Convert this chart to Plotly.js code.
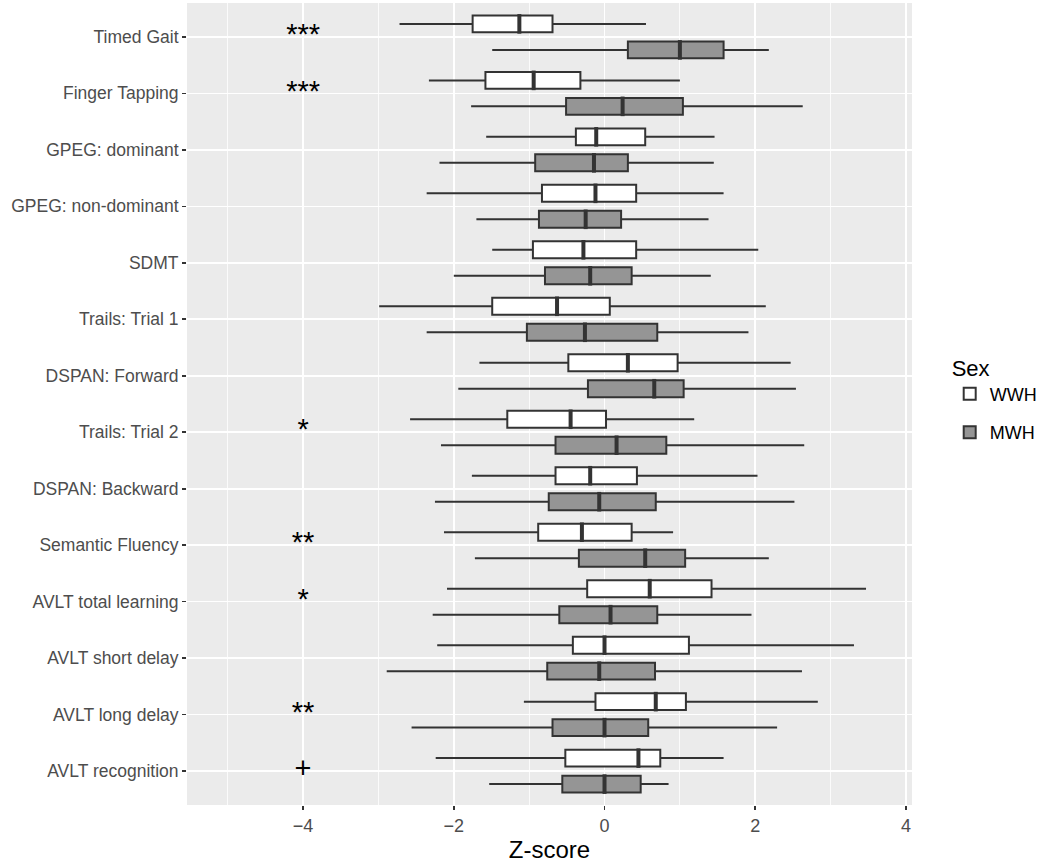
<!DOCTYPE html>
<html>
<head>
<meta charset="utf-8">
<script src="https://cdn.plot.ly/plotly-3.0.1.min.js"></script>
<style>html,body{margin:0;padding:0;background:#fff;}#chart{width:1050px;height:863px;}</style>
</head>
<body>
<div id="chart"></div>
<script>
const categories = ["Timed Gait","Finger Tapping","GPEG: dominant","GPEG: non-dominant","SDMT","Trails: Trial 1","DSPAN: Forward","Trails: Trial 2","DSPAN: Backward","Semantic Fluency","AVLT total learning","AVLT short delay","AVLT long delay","AVLT recognition"];
const significance = ["***","***","","","","","","*","","**","*","","**","+"];

const wwhLower  = [-2.72,-2.33,-1.57,-2.36,-1.49,-2.99,-1.66,-2.58,-1.76,-2.13,-2.09,-2.22,-1.07,-2.24];
const wwhQ1     = [-1.75,-1.58,-0.38,-0.83,-0.95,-1.49,-0.48,-1.29,-0.65,-0.88,-0.23,-0.42,-0.12,-0.52];
const wwhMedian = [-1.13,-0.94,-0.11,-0.12,-0.28,-0.63, 0.31,-0.45,-0.19,-0.30, 0.60, 0.00, 0.68, 0.45];
const wwhQ3     = [-0.69,-0.32, 0.54, 0.42, 0.42, 0.07, 0.97, 0.02, 0.43, 0.36, 1.42, 1.12, 1.08, 0.74];
const wwhUpper  = [ 0.55, 1.00, 1.46, 1.58, 2.04, 2.14, 2.47, 1.19, 2.03, 0.91, 3.47, 3.31, 2.83, 1.58];

const mwhLower  = [-1.49,-1.77,-2.19,-1.70,-2.00,-2.36,-1.94,-2.17,-2.25,-1.72,-2.28,-2.89,-2.56,-1.53];
const mwhQ1     = [ 0.31,-0.51,-0.92,-0.87,-0.79,-1.03,-0.22,-0.65,-0.74,-0.34,-0.60,-0.76,-0.69,-0.56];
const mwhMedian = [ 1.00, 0.24,-0.14,-0.25,-0.19,-0.26, 0.66, 0.16,-0.07, 0.54, 0.08,-0.07, 0.00, 0.00];
const mwhQ3     = [ 1.58, 1.04, 0.31, 0.22, 0.36, 0.70, 1.05, 0.82, 0.68, 1.07, 0.70, 0.67, 0.58, 0.48];
const mwhUpper  = [ 2.18, 2.63, 1.45, 1.38, 1.41, 1.91, 2.54, 2.65, 2.52, 2.18, 1.95, 2.62, 2.29, 0.85];

const groups = ["WWH","MWH"];

const idx = categories.map((c,i)=>i);
const OFF = 0.23, BW = 0.3;
const lineCol = "#333333";
const fills = {WWH:"#ffffff", MWH:"#959595"};

function boxTrace(name, pos, lo, q1, med, q3, hi){
  return {
    type:"box", orientation:"h", name:name, legendgroup:name, y:pos,
    lowerfence:lo, q1:q1, median:med, q3:q3, upperfence:hi,
    width:BW, whiskerwidth:0, boxpoints:false,
    fillcolor:fills[name], line:{color:lineCol, width:2},
    hoverinfo:"skip"
  };
}
function medTrace(pos, med){
  return {
    type:"scatter", mode:"markers", x:med, y:pos, showlegend:false, hoverinfo:"skip",
    marker:{symbol:"line-ns", size:14, color:lineCol, line:{color:lineCol, width:4}}
  };
}
const wPos = idx.map(i=>i-OFF), mPos = idx.map(i=>i+OFF);
const data = [
  boxTrace(groups[0], wPos, wwhLower, wwhQ1, wwhMedian, wwhQ3, wwhUpper),
  boxTrace(groups[1], mPos, mwhLower, mwhQ1, mwhMedian, mwhQ3, mwhUpper),
  medTrace(wPos, wwhMedian),
  medTrace(mPos, mwhMedian),
  {
    type:"scatter", mode:"text", x:idx.map(()=>-4), y:idx, text:significance,
    textposition:"middle center", showlegend:false, hoverinfo:"skip",
    textfont:{family:"Liberation Sans, Arial, sans-serif", size:29, color:"#000"}
  }
];

const layout = {
  width:1050, height:863,
  margin:{l:187, r:138, t:3, b:58},
  paper_bgcolor:"#ffffff", plot_bgcolor:"#EBEBEB",
  font:{family:"Liberation Sans, Arial, sans-serif", color:"#4d4d4d"},
  boxmode:"overlay",
  xaxis:{
    range:[-5.54, 4.08], tick0:0, dtick:2, zeroline:false,
    showgrid:true, gridcolor:"#ffffff", gridwidth:1.6,
    minor:{tick0:1, dtick:2, showgrid:true, gridcolor:"#ffffff", gridwidth:0.8, ticks:""},
    ticks:"outside", ticklen:4, tickwidth:1.6, tickcolor:"#333333",
    tickfont:{size:18, color:"#4d4d4d"},
    title:{text:"Z-score", font:{size:24, color:"#000"}, standoff:6},
    showline:false
  },
  yaxis:{
    range:[13.6, -0.6], tickmode:"array", tickvals:idx, ticktext:categories,
    zeroline:false, showgrid:true, gridcolor:"#ffffff", gridwidth:1.6,
    ticks:"outside", ticklen:4, tickwidth:1.6, tickcolor:"#333333",
    tickfont:{size:17.5, color:"#4d4d4d"}, showline:false
  },
  showlegend:true,
  legend:{
    x:1.052, xanchor:"left", y:0.571, yanchor:"top",
    title:{text:"Sex", font:{size:22, color:"#000"}},
    font:{size:18, color:"#000"}, bgcolor:"rgba(0,0,0,0)",
    traceorder:"grouped", tracegroupgap:12, itemwidth:30
  }
};

Plotly.newPlot("chart", data, layout, {displayModeBar:false, staticPlot:true});
</script>
</body>
</html>
